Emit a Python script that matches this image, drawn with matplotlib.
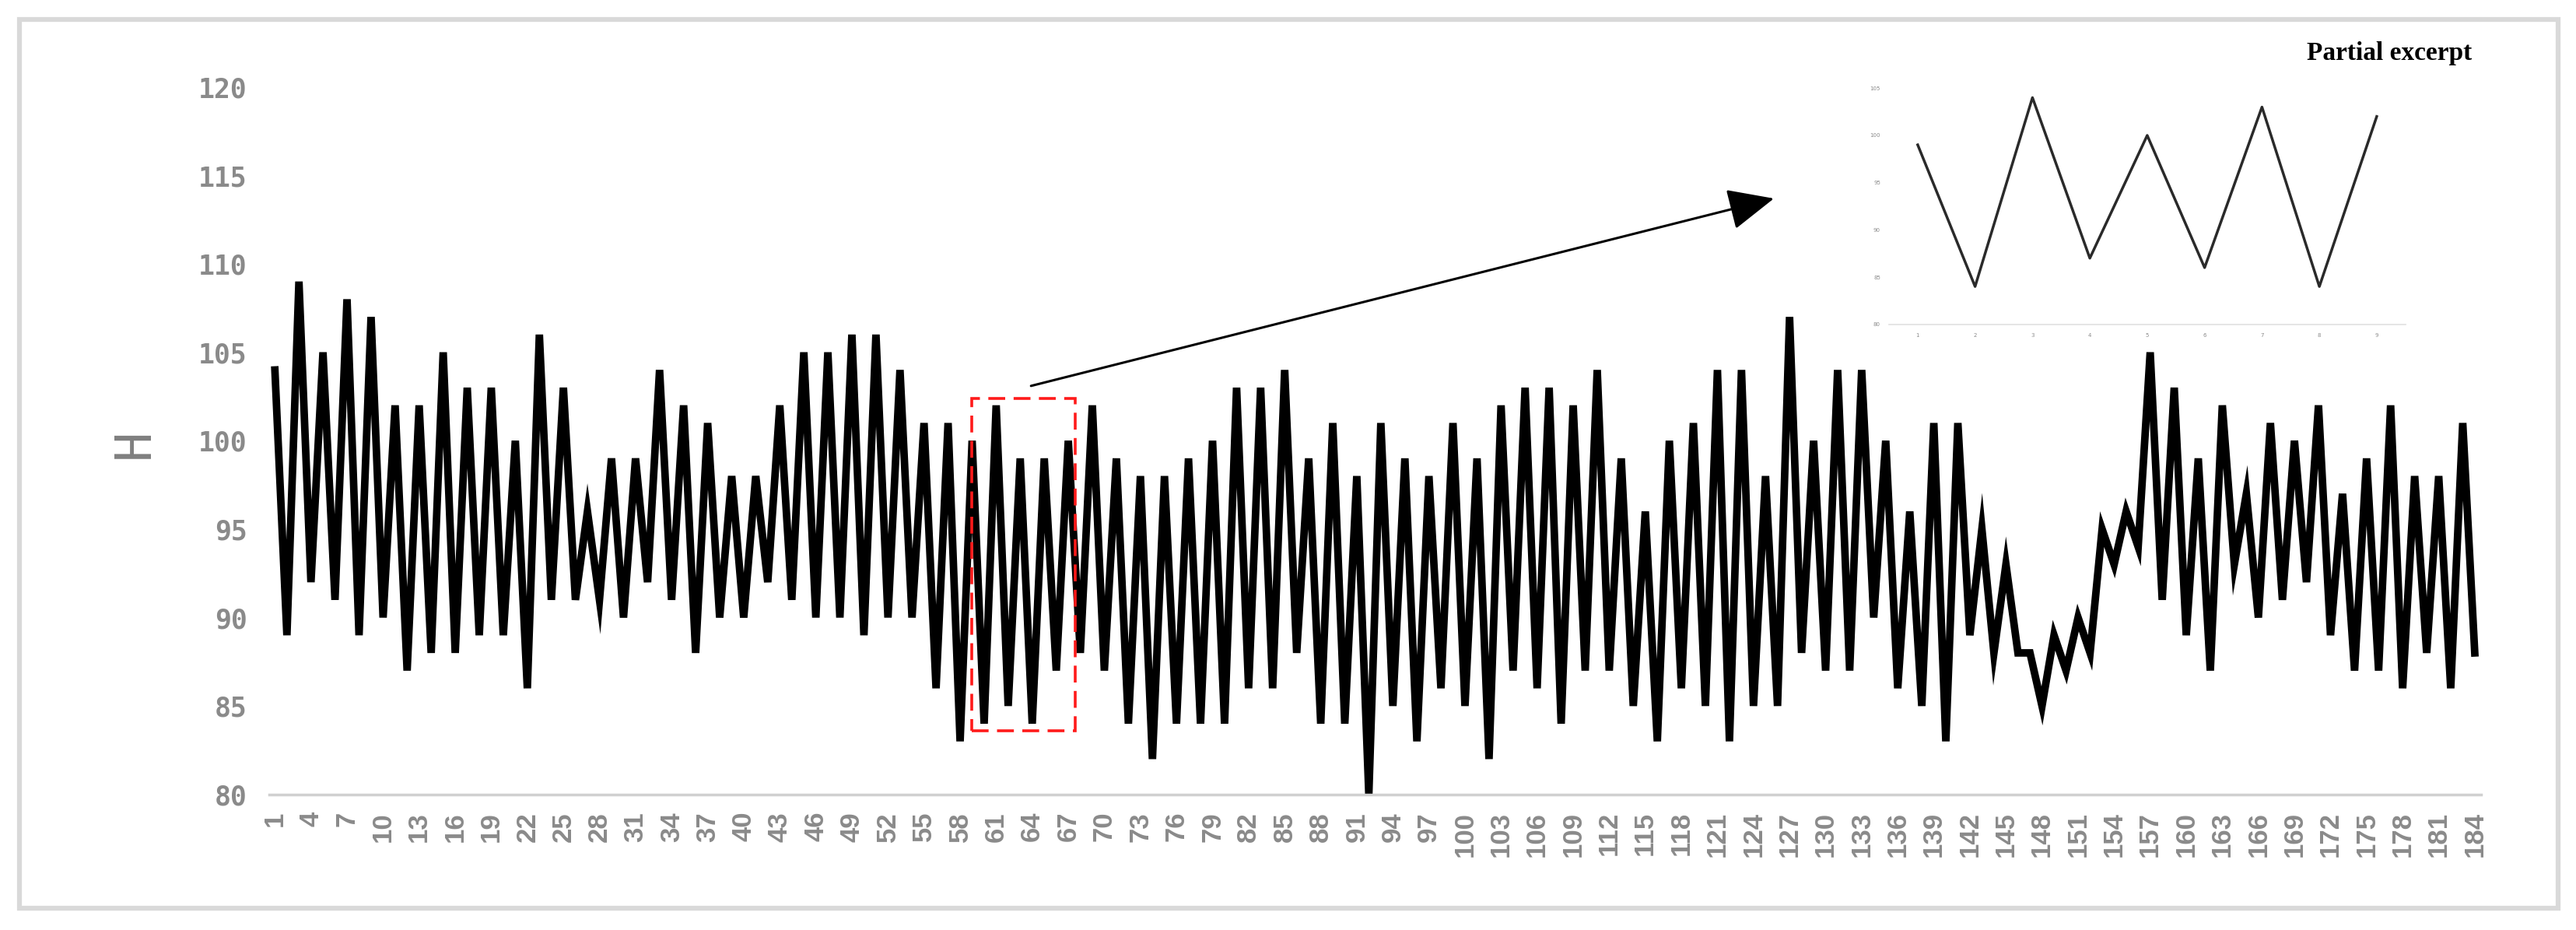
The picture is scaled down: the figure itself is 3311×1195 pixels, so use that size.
import matplotlib
matplotlib.use("Agg")
import matplotlib.pyplot as plt
from matplotlib.patches import Rectangle

# H values, points 1..184
h_values = [
    104, 89, 109, 92, 105, 91, 108, 89, 107, 90,
    102, 87, 102, 88, 105, 88, 103, 89, 103, 89,
    100, 86, 106, 91, 103, 91, 96, 91, 99, 90,
    99, 92, 104, 91, 102, 88, 101, 90, 98, 90,
    98, 92, 102, 91, 105, 90, 105, 90, 106, 89,
    106, 90, 104, 90, 101, 86, 101, 83, 100, 84,
    102, 85, 99, 84, 99, 87, 100, 88, 102, 87,
    99, 84, 98, 82, 98, 84, 99, 84, 100, 84,
    103, 86, 103, 86, 104, 88, 99, 84, 101, 84,
    98, 80, 101, 85, 99, 83, 98, 86, 101, 85,
    99, 82, 102, 87, 103, 86, 103, 84, 102, 87,
    104, 87, 99, 85, 96, 83, 100, 86, 101, 85,
    104, 83, 104, 85, 98, 85, 107, 88, 100, 87,
    104, 87, 104, 90, 100, 86, 96, 85, 101, 83,
    101, 89, 95, 88, 93, 88, 88, 85, 89, 87,
    90, 88, 95, 93, 96, 94, 105, 91, 103, 89,
    99, 87, 102, 93, 97, 90, 101, 91, 100, 92,
    102, 89, 97, 87, 99, 87, 102, 86, 98, 88,
    98, 86, 101, 88,
]
points = list(range(1, len(h_values) + 1))
tick_points = list(range(1, 185, 3))
y_ticks = [80, 85, 90, 95, 100, 105, 110, 115, 120]

# the zoomed "Partial excerpt" inset
excerpt_values = [99, 84, 104, 87, 100, 86, 103, 84, 102]
excerpt_points = list(range(1, len(excerpt_values) + 1))
excerpt_ticks = [80, 85, 90, 95, 100, 105]

box_from, box_to = 59.0, 67.6
box_low, box_high = 83.6, 102.4

W, H = 3311, 1195
fig = plt.figure(figsize=(W / 100, H / 100), dpi=100)
fig.patch.set_facecolor("white")

# grey frame around everything
fig.patches.append(Rectangle((25 / W, 1 - 1167 / H), (3288 - 25) / W, (1167 - 25) / H,
                             transform=fig.transFigure, fill=False,
                             edgecolor="#d9d9d9", linewidth=4.5))

ax = fig.add_axes([345.6 / W, (H - 1020.7) / H, 2843 / W, 908.8 / H])
ax.plot(points, h_values, color="black", linewidth=7, solid_joinstyle="miter", clip_on=False)
ax.set_xlim(0.5, 184.5)
ax.set_ylim(80, 120)
ax.set_xticks(tick_points)
ax.set_xticklabels([str(t) for t in tick_points], rotation=90,
                   fontfamily="Liberation Sans", fontweight="bold",
                   fontsize=25, color="#8a8a8a")
ax.set_yticks(y_ticks)
ax.set_yticklabels([str(t) for t in y_ticks], fontfamily="DejaVu Sans Mono",
                   fontweight="bold", fontsize=25, color="#8a8a8a")
ax.tick_params(axis="both", length=0)
ax.tick_params(axis="x", pad=16)
ax.tick_params(axis="y", pad=20)
for side in ["top", "right", "left"]:
    ax.spines[side].set_visible(False)
ax.spines["bottom"].set_color("#d0d0d0")
ax.spines["bottom"].set_linewidth(2.5)

fig.text(173 / W, 1 - 570 / H, "H", rotation=90, ha="center", va="center",
         fontfamily="DejaVu Sans Mono", fontsize=46, color="#7f7f7f")

# red dashed box + arrow to the inset
ax.add_patch(Rectangle((box_from, box_low), box_to - box_from, box_high - box_low,
                       fill=False, edgecolor="#ff1a1a", linewidth=2.6,
                       linestyle=(0, (6, 3)), clip_on=False, zorder=5))
ax.annotate("", xy=(125.7, 113.7), xytext=(63.9, 103.1),
            arrowprops=dict(arrowstyle="-|>,head_length=1.0,head_width=0.45",
                            mutation_scale=37, color="black", lw=2.2,
                            shrinkA=0, shrinkB=0),
            annotation_clip=False)

# inset
ins = fig.add_axes([2428 / W, (H - 416.7) / H, 663.75 / W, 303.4 / H])
ins.plot(excerpt_points, excerpt_values, color="#2a2a2a", linewidth=2.5)
ins.set_xlim(0.5, 9.5)
ins.set_ylim(80, 105)
ins.set_xticks(excerpt_points)
ins.set_xticklabels([str(p) for p in excerpt_points], fontsize=5, color="#8a8a8a")
ins.set_yticks(excerpt_ticks)
ins.set_yticklabels([str(t) for t in excerpt_ticks], fontsize=5, color="#8a8a8a")
ins.tick_params(axis="both", length=0, pad=8)
for side in ["top", "right", "left"]:
    ins.spines[side].set_visible(False)
ins.spines["bottom"].set_color("#e0e0e0")
ins.spines["bottom"].set_linewidth(1.2)
ins.patch.set_alpha(0)

fig.text(3177 / W, 1 - 68 / H, "Partial excerpt", ha="right", va="center",
         fontfamily="Liberation Serif", fontweight="bold", fontsize=24, color="black")

fig.savefig("out.png", dpi=100, facecolor="white")
